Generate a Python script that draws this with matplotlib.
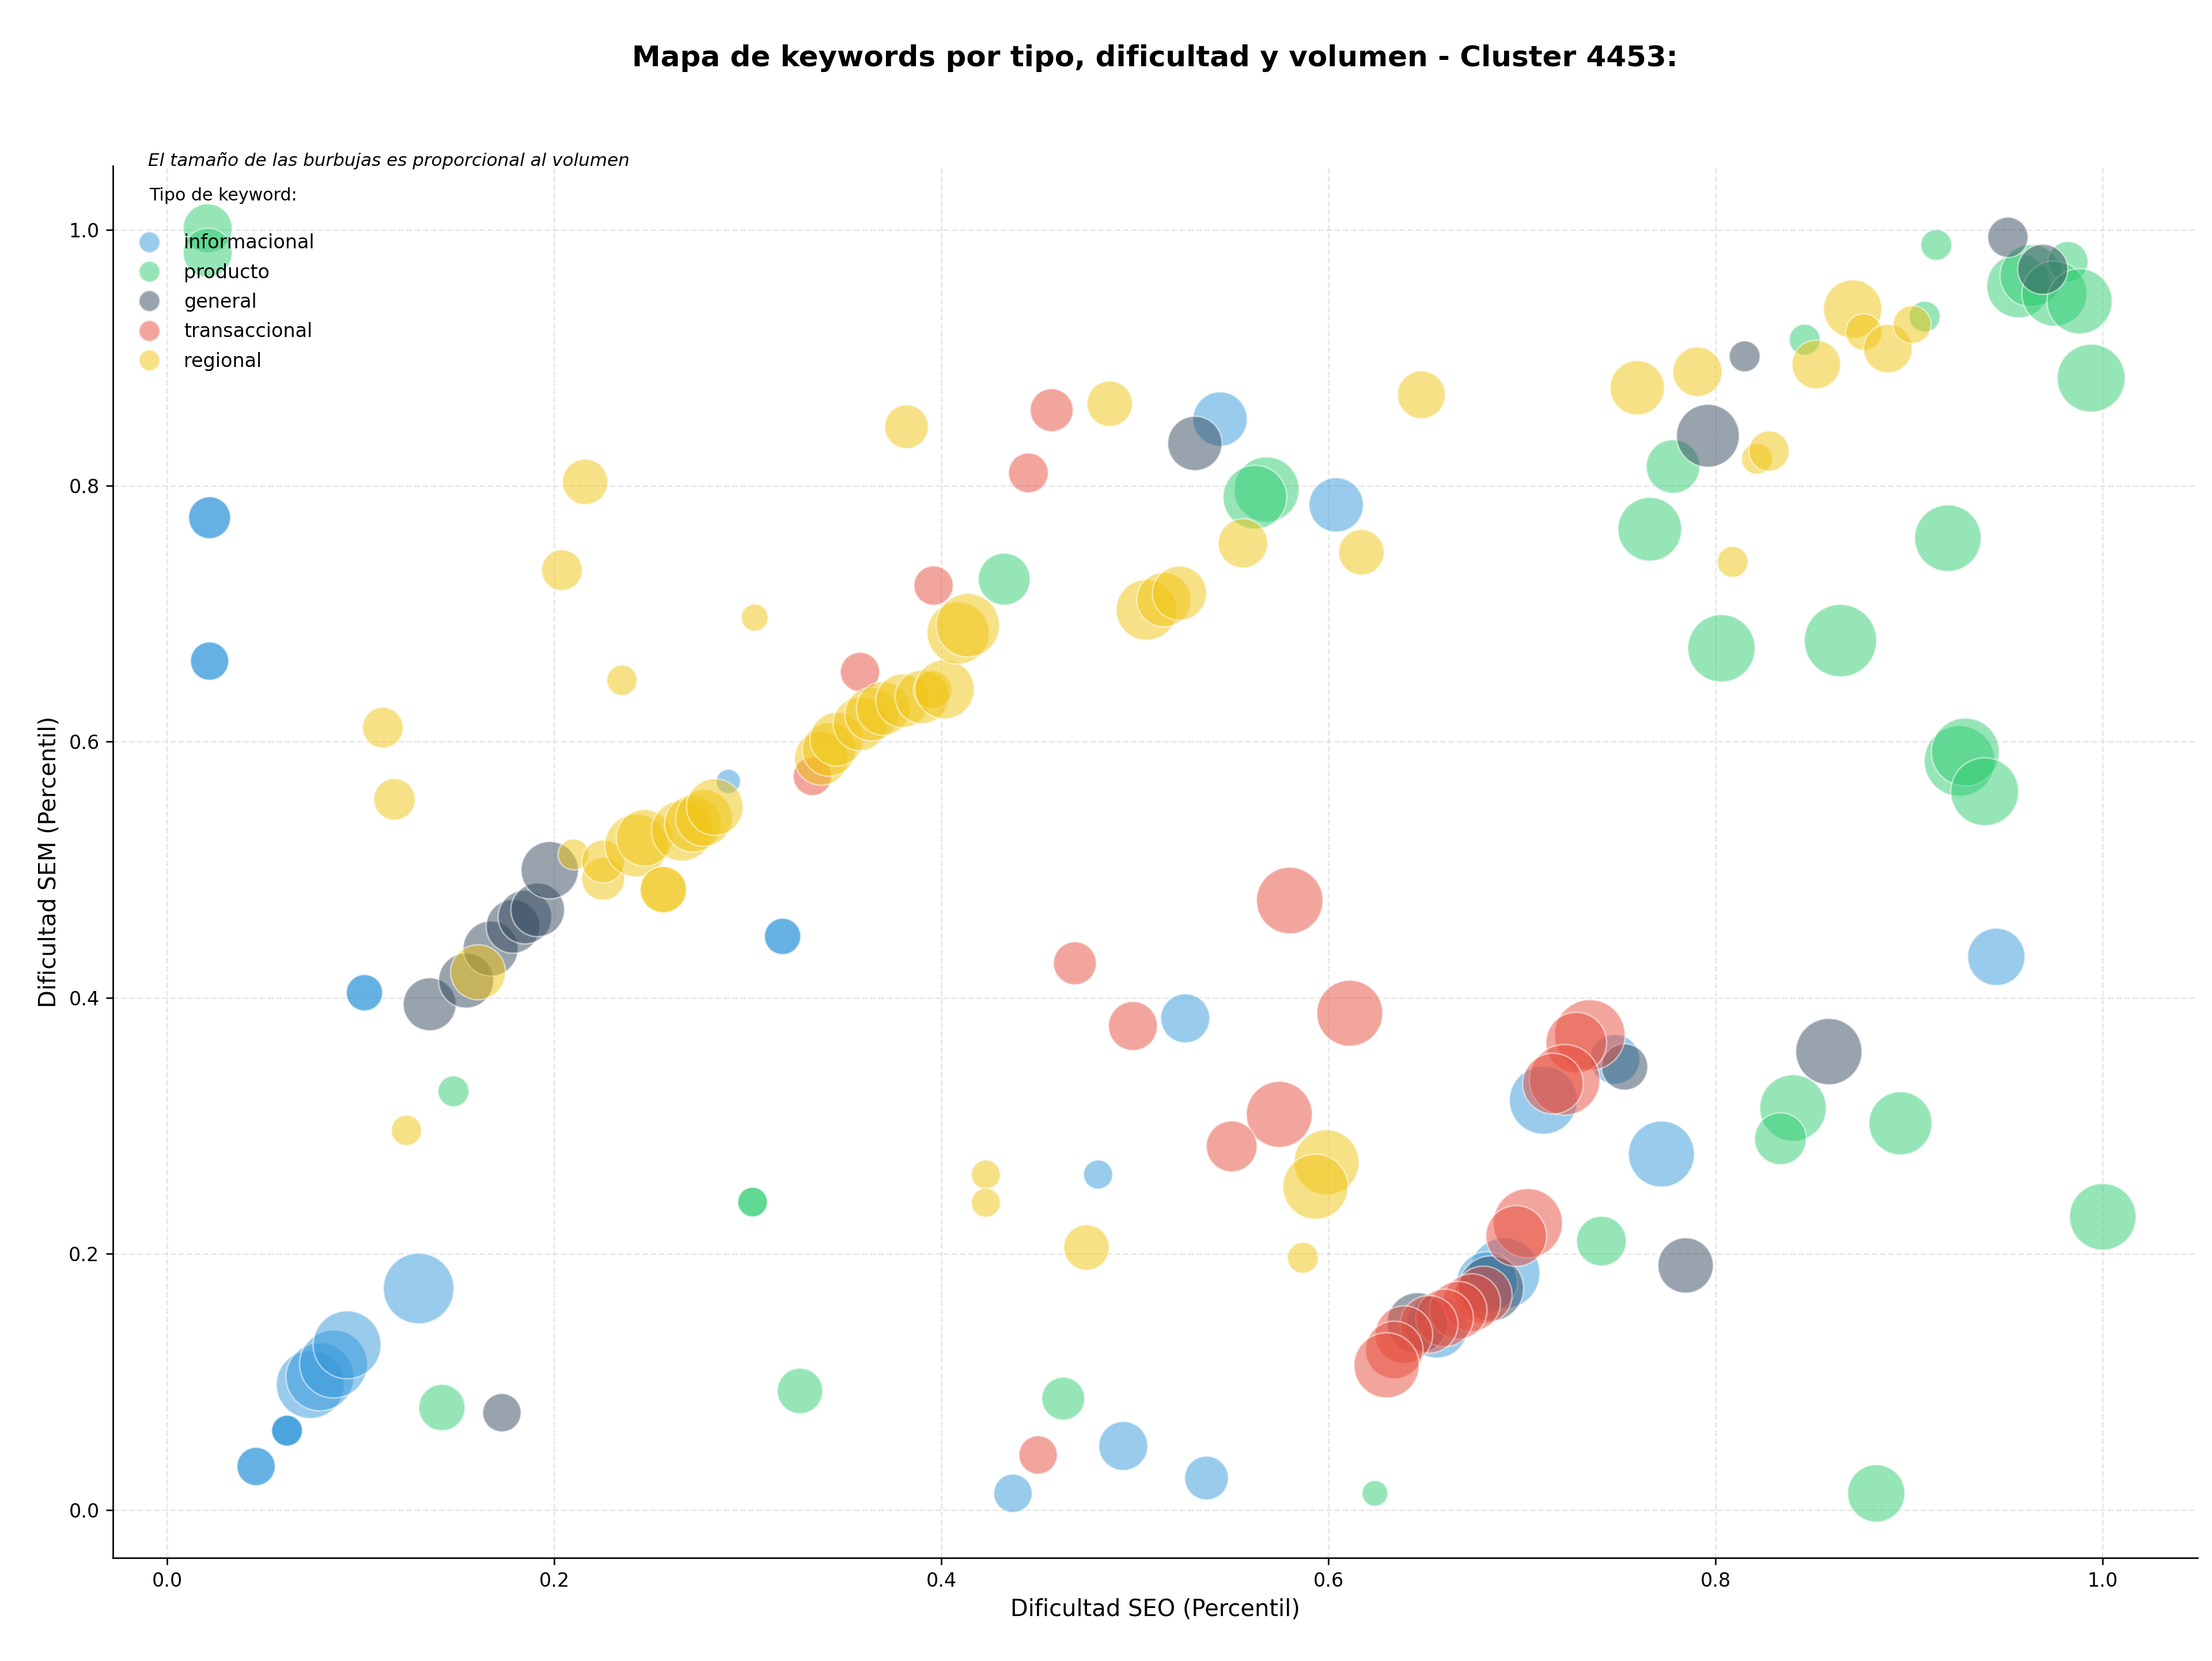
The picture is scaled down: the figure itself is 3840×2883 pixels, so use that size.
import matplotlib
matplotlib.use("Agg")
import matplotlib.pyplot as plt
from matplotlib.lines import Line2D

# Datos: dificultad SEO (x), dificultad SEM (y) y tamaño de burbuja (proporcional al volumen)
tipos = ["informacional", "producto", "general", "transaccional", "regional"]
colores = {"informacional": "#3498db", "producto": "#2ecc71", "general": "#34495e",
           "transaccional": "#e74c3c", "regional": "#f1c40f"}

info_x = [0.022, 0.022, 0.022, 0.022, 0.102, 0.102, 0.318, 0.318, 0.046, 0.046, 0.062, 0.062, 0.062,
          0.074, 0.079, 0.086, 0.093, 0.130, 0.290, 0.544, 0.604, 0.526, 0.481, 0.494, 0.437, 0.537,
          0.945, 0.772, 0.711, 0.748, 0.691, 0.682, 0.656]
info_y = [0.775, 0.775, 0.663, 0.663, 0.404, 0.404, 0.448, 0.448, 0.034, 0.034, 0.062, 0.062, 0.062,
          0.098, 0.104, 0.114, 0.129, 0.173, 0.569, 0.852, 0.785, 0.384, 0.262, 0.050, 0.013, 0.025,
          0.432, 0.278, 0.320, 0.352, 0.185, 0.178, 0.143]
info_s = [480, 480, 400, 400, 360, 360, 360, 360, 400, 400, 260, 260, 260,
          1250, 1250, 1250, 1250, 1350, 160, 800, 800, 650, 230, 650, 400, 520,
          890, 1180, 1250, 670, 1350, 1000, 1050]

prod_x = [0.021, 0.021, 0.148, 0.142, 0.3025, 0.3025, 0.327, 0.4325, 0.463, 0.568, 0.562, 0.624, 0.741,
          0.766, 0.778, 0.803, 0.8645, 0.920, 0.846, 0.914, 0.908, 0.9565, 0.963, 0.982, 0.975, 0.988,
          0.994, 0.926, 0.929, 0.939, 0.840, 0.8335, 0.8955, 1.000, 0.883]
prod_y = [1.001, 0.982, 0.327, 0.080, 0.2405, 0.2405, 0.093, 0.727, 0.087, 0.797, 0.791, 0.013, 0.210,
          0.766, 0.815, 0.673, 0.679, 0.759, 0.914, 0.988, 0.932, 0.956, 0.964, 0.975, 0.950, 0.944,
          0.884, 0.585, 0.592, 0.561, 0.314, 0.290, 0.302, 0.229, 0.013]
prod_s = [650, 650, 260, 580, 240, 240, 560, 730, 500, 1150, 1100, 180, 670,
          1100, 780, 1230, 1420, 1200, 260, 260, 260, 1100, 1050, 440, 1150, 1150,
          1250, 1350, 1250, 1250, 1200, 730, 1080, 1200, 890]

gen_x = [0.1357, 0.1545, 0.1672, 0.1787, 0.1849, 0.1915, 0.1977, 0.173, 0.531, 0.796, 0.815, 0.951,
         0.969, 0.8585, 0.7845, 0.753, 0.684, 0.646]
gen_y = [0.395, 0.4135, 0.4385, 0.4558, 0.4631, 0.4687, 0.4997, 0.076, 0.833, 0.839, 0.901, 0.994,
         0.969, 0.358, 0.191, 0.346, 0.173, 0.146]
gen_s = [760, 820, 820, 780, 780, 780, 890, 400, 800, 1070, 260, 440,
         680, 1190, 830, 580, 1150, 1000]

trans_x = [0.457, 0.445, 0.396, 0.358, 0.3334, 0.580, 0.611, 0.469, 0.499, 0.5746, 0.550, 0.450,
           0.735, 0.728, 0.722, 0.716, 0.703, 0.697, 0.680, 0.674, 0.667, 0.660, 0.652,
           0.639, 0.634, 0.630]
trans_y = [0.859, 0.810, 0.722, 0.6545, 0.573, 0.476, 0.388, 0.427, 0.378, 0.309, 0.284, 0.043,
           0.371, 0.365, 0.336, 0.333, 0.224, 0.214, 0.168, 0.162, 0.156, 0.150, 0.145,
           0.137, 0.125, 0.113]
trans_s = [500, 430, 420, 420, 400, 1200, 1180, 500, 650, 1180, 700, 400,
           1350, 1000, 1350, 1000, 1300, 1000, 900, 900, 900, 900, 900,
           900, 900, 1150]

reg_x = [0.1115, 0.1175, 0.1237, 0.204, 0.216, 0.235, 0.3036, 0.210, 0.1607, 0.2253, 0.2253, 0.2424,
         0.2467, 0.2564, 0.2564, 0.266, 0.2717, 0.2774, 0.283, 0.338, 0.342, 0.346, 0.358, 0.364, 0.370,
         0.380, 0.390, 0.3955, 0.4017, 0.4087, 0.4137, 0.382, 0.487, 0.506, 0.515, 0.523, 0.5558, 0.617,
         0.648, 0.423, 0.423, 0.475, 0.599, 0.5933, 0.5868, 0.7595, 0.7906, 0.8088, 0.8213, 0.8276,
         0.852, 0.8708, 0.8766, 0.889, 0.9015]
reg_y = [0.611, 0.555, 0.2965, 0.734, 0.803, 0.648, 0.697, 0.512, 0.420, 0.493, 0.5065, 0.519,
         0.525, 0.4845, 0.4845, 0.5305, 0.536, 0.5405, 0.549, 0.587, 0.594, 0.602, 0.614, 0.6215, 0.626,
         0.632, 0.635, 0.6405, 0.641, 0.685, 0.691, 0.846, 0.864, 0.703, 0.711, 0.716, 0.755, 0.748,
         0.871, 0.262, 0.240, 0.205, 0.2715, 0.2525, 0.197, 0.8765, 0.889, 0.7405, 0.821, 0.827,
         0.8947, 0.938, 0.920, 0.907, 0.9258]
reg_s = [450, 470, 250, 450, 560, 250, 200, 260, 820, 500, 500, 1070,
         870, 580, 580, 1000, 870, 870, 870, 780, 780, 780, 780, 780, 780,
         780, 780, 400, 950, 1050, 1090, 520, 560, 1000, 800, 800, 660, 560,
         620, 230, 230, 560, 1150, 1150, 260, 800, 660, 260, 260, 440,
         640, 920, 360, 640, 390]

datos = {
    "informacional": (info_x, info_y, info_s),
    "producto": (prod_x, prod_y, prod_s),
    "general": (gen_x, gen_y, gen_s),
    "transaccional": (trans_x, trans_y, trans_s),
    "regional": (reg_x, reg_y, reg_s),
}

fig = plt.figure(figsize=(16, 12.0125), dpi=240)
ax = fig.add_axes([0.051, 0.062, 0.9425, 0.838])

for tipo in tipos:
    x, y, s = datos[tipo]
    ax.scatter(x, y, s=s, c=colores[tipo], alpha=0.5, edgecolors="white", linewidths=0.8, zorder=2)

ax.set_xlim(-0.028, 1.049)
ax.set_ylim(-0.0375, 1.0496)
ax.set_xlabel("Dificultad SEO (Percentil)", fontsize=12)
ax.set_ylabel("Dificultad SEM (Percentil)", fontsize=12)
ax.grid(True, linestyle="--", alpha=0.3, zorder=0)
ax.spines["top"].set_visible(False)
ax.spines["right"].set_visible(False)

fig.text(0.522, 0.965, "Mapa de keywords por tipo, dificultad y volumen - Cluster 4453:",
         ha="center", va="center", fontsize=15, fontweight="bold")
ax.text(0.017, 1.004, "El tamaño de las burbujas es proporcional al volumen",
        transform=ax.transAxes, fontsize=9.3, style="italic", va="center")
ax.text(0.0176, 0.979, "Tipo de keyword:", transform=ax.transAxes, fontsize=9, va="center")

handles = [Line2D([0], [0], marker="o", linestyle="", markersize=11, alpha=0.5,
                  markerfacecolor=colores[t], markeredgecolor="white", label=t) for t in tipos]
leg = ax.legend(handles=handles, loc="upper left", frameon=False, fontsize=10,
                labelspacing=0.55, bbox_to_anchor=(0.0, 0.964))

fig.savefig("out.png", dpi=240)
